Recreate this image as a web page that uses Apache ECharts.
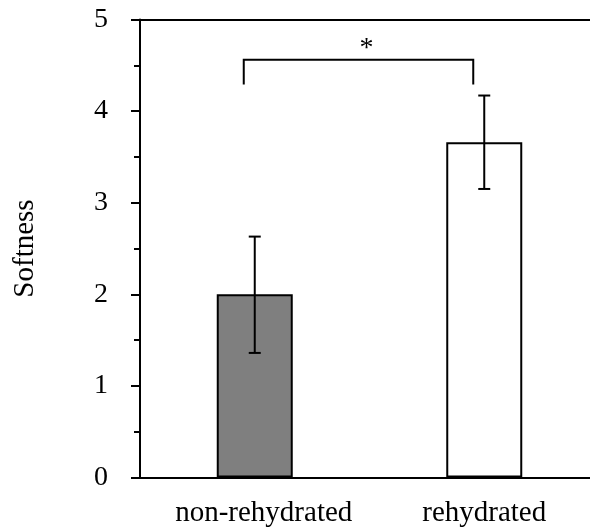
<!DOCTYPE html>
<html>
<head>
<meta charset="utf-8">
<style>
  html, body { margin: 0; padding: 0; background: #fff; }
  #chart { width: 590px; height: 531px; }
</style>
<script src="https://cdn.jsdelivr.net/npm/echarts@6/dist/echarts.min.js"></script>
</head>
<body>
<div id="chart"></div>
<script>
// Softness scores by group: mean with error range
const categories = ['non-rehydrated', 'rehydrated'];
const means = [2.0, 3.66];
const errLow = [1.36, 3.15];
const errHigh = [2.63, 4.17];
const barColors = ['#7f7f7f', '#ffffff'];

// Significance bracket between the two groups
const bracketPair = [0, 1];
const bracketTop = 4.56;
const bracketLegEnd = 4.29;
const starLevel = 4.68;
const starLabel = '*';

const yMin = 0, yMax = 5, yInterval = 1;

const FONT = "'Liberation Serif', 'Times New Roman', serif";
const INK = '#000';

const chart = echarts.init(document.getElementById('chart'), null, { renderer: 'canvas' });

const option = {
  animation: false,
  backgroundColor: '#fff',
  grid: { left: 140, top: 19.5, width: 459, height: 458, outerBoundsMode: 'none', containLabel: false },
  xAxis: [
    {
      type: 'category',
      data: categories.map((c, i) => i === 0
        ? { value: c, textStyle: { padding: [0, 0, 0, 18] } }
        : c),
      axisLine: { lineStyle: { color: INK, width: 2 } },
      axisTick: { show: false },
      axisLabel: {
        color: INK, fontFamily: FONT, fontSize: 29, margin: 21,
        interval: 0, hideOverlap: false, showMinLabel: true, showMaxLabel: true
      }
    },
    {
      type: 'category',
      position: 'top',
      data: categories,
      axisLine: { show: true, lineStyle: { color: INK, width: 2 } },
      axisTick: { show: false },
      axisLabel: { show: false }
    }
  ],
  yAxis: {
    type: 'value',
    min: yMin,
    max: yMax,
    interval: yInterval,
    name: 'Softness',
    nameLocation: 'middle',
    nameGap: 100,
    nameTextStyle: { color: INK, fontFamily: FONT, fontSize: 29 },
    axisLine: { show: true, lineStyle: { color: INK, width: 2 } },
    axisTick: { show: true, inside: false, length: 9, lineStyle: { color: INK, width: 2 } },
    minorTick: { show: true, splitNumber: 2, length: 6, lineStyle: { color: INK, width: 2 } },
    splitLine: { show: false },
    axisLabel: { color: INK, fontFamily: FONT, fontSize: 28, margin: 32 }
  },
  series: [
    {
      type: 'bar',
      barWidth: 76,
      data: means.map((v, i) => ({
        value: v,
        itemStyle: { color: barColors[i], borderColor: INK, borderWidth: 2 }
      })),
      z: 2
    },
    {
      // error bars with caps
      type: 'custom',
      z: 3,
      data: categories.map((c, i) => [i, errLow[i], errHigh[i]]),
      renderItem: function (params, api) {
        const lo = api.coord([api.value(0), api.value(1)]);
        const hi = api.coord([api.value(0), api.value(2)]);
        const half = 6;
        const style = { stroke: INK, lineWidth: 2 };
        return {
          type: 'group',
          children: [
            { type: 'line', shape: { x1: hi[0], y1: hi[1], x2: lo[0], y2: lo[1] }, style },
            { type: 'line', shape: { x1: hi[0] - half, y1: hi[1], x2: hi[0] + half, y2: hi[1] }, style },
            { type: 'line', shape: { x1: lo[0] - half, y1: lo[1], x2: lo[0] + half, y2: lo[1] }, style }
          ]
        };
      }
    },
    {
      // significance bracket and star
      type: 'custom',
      z: 3,
      data: [[bracketPair[0], bracketPair[1], bracketTop, bracketLegEnd, starLevel]],
      renderItem: function (params, api) {
        const shift = -11;
        const aTop = api.coord([api.value(0), api.value(2)]);
        const bTop = api.coord([api.value(1), api.value(2)]);
        const aLeg = api.coord([api.value(0), api.value(3)]);
        const bLeg = api.coord([api.value(1), api.value(3)]);
        const star = api.coord([api.value(0), api.value(4)]);
        const midX = (aTop[0] + bTop[0]) / 2 + shift + 8;
        return {
          type: 'group',
          children: [
            {
              type: 'polyline',
              shape: {
                points: [
                  [aLeg[0] + shift, aLeg[1]],
                  [aTop[0] + shift, aTop[1]],
                  [bTop[0] + shift, bTop[1]],
                  [bLeg[0] + shift, bLeg[1]]
                ]
              },
              style: { stroke: INK, lineWidth: 2, fill: null }
            },
            {
              type: 'text',
              x: midX,
              y: star[1],
              style: {
                text: starLabel,
                fill: INK,
                font: '28px ' + FONT,
                align: 'center',
                verticalAlign: 'middle'
              }
            }
          ]
        };
      }
    }
  ]
};

chart.setOption(option);
</script>
</body>
</html>
